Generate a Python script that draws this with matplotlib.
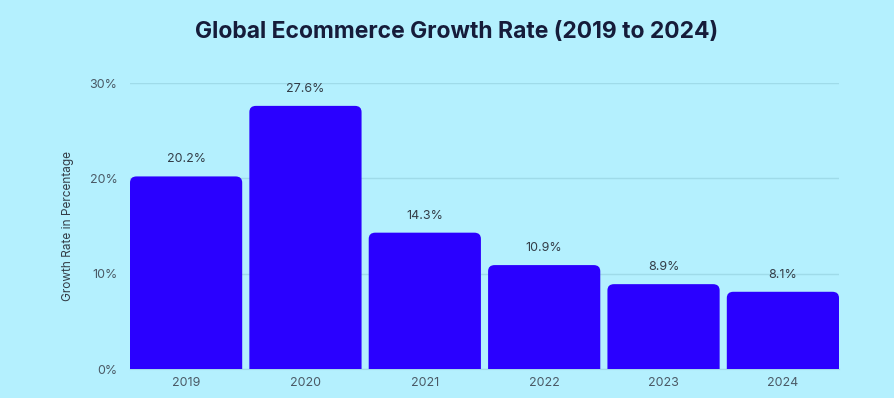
import matplotlib
matplotlib.use("Agg")
import matplotlib.pyplot as plt
from matplotlib.patches import FancyBboxPatch

years = ["2019", "2020", "2021", "2022", "2023", "2024"]
growth = [20.2, 27.6, 14.3, 10.9, 8.9, 8.1]
yticks = [0, 10, 20, 30]
ytick_labels = ["0%", "10%", "20%", "30%"]

BG = "#b4f0fe"
BAR = "#2a00ff"
GRID = "#9fdbe9"
TXT = "#4b5a66"

plt.rcParams['font.family'] = ['Inter', 'DejaVu Sans']

fig = plt.figure(figsize=(8.94, 3.98), dpi=100, facecolor=BG)
ax = fig.add_axes([130/894, 1-369/398, 709/894, (369-83)/398])
ax.set_facecolor(BG)

W = 0.94
x = list(range(len(years)))
bars = ax.bar(x, growth, width=W, color="none")
ax.set_xlim(-W/2, len(years)-1+W/2)
ax.set_ylim(0, 30)

rx = 0.055
aspect = 0.65 / rx
for b in bars:
    bx, w, h = b.get_x(), b.get_width(), b.get_height()
    p = FancyBboxPatch((bx, -2), w, h + 2,
                       boxstyle=f"round,pad=0,rounding_size={rx}",
                       mutation_aspect=aspect, facecolor=BAR, edgecolor="none",
                       zorder=3)
    ax.add_patch(p)

for xi, v in zip(x, growth):
    ax.annotate(f"{v}%", (xi, v), xytext=(0, 8), textcoords="offset points",
                ha="center", va="bottom", fontsize=9, color="#333d47")

ax.set_yticks(yticks)
ax.set_yticklabels(ytick_labels)
ax.set_xticks(x)
ax.set_xticklabels(years)
ax.tick_params(axis="both", length=0, labelsize=9, labelcolor=TXT)
ax.tick_params(axis="y", pad=9)
ax.tick_params(axis="x", pad=6)
ax.grid(axis="y", color=GRID, linewidth=1, zorder=0)
ax.set_axisbelow(True)
for s in ["top", "right", "left"]:
    ax.spines[s].set_visible(False)
ax.spines["bottom"].set_color(GRID)
ax.spines["bottom"].set_zorder(0)

ax.set_ylabel("Growth Rate in Percentage", fontsize=8.5, color="#333d47", labelpad=11)

fig.text(457/894, 1-32/398, "Global Ecommerce Growth Rate (2019 to 2024)",
         ha="center", va="center", fontsize=16.5, fontweight="bold", color="#161c3a")

fig.savefig("out.png", dpi=100, facecolor=BG)
